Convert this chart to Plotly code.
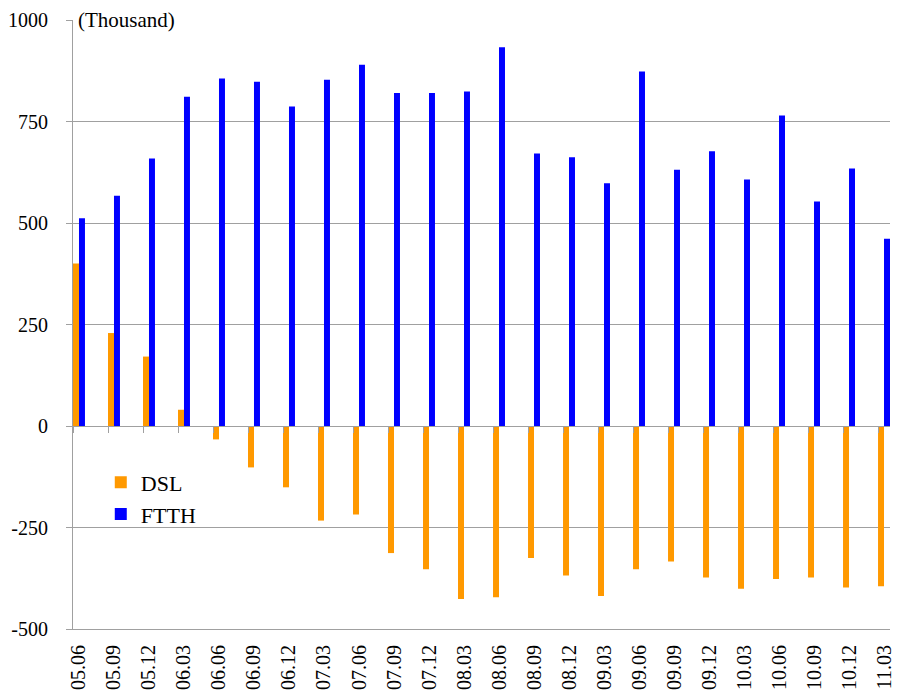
import plotly.graph_objects as go

categories = ["05.06", "05.09", "05.12", "06.03", "06.06", "06.09", "06.12",
              "07.03", "07.06", "07.09", "07.12", "08.03", "08.06", "08.09",
              "08.12", "09.03", "09.06", "09.09", "09.12", "10.03", "10.06",
              "10.09", "10.12", "11.03"]
dsl = [400, 229, 171, 40, -33, -102, -151, -233, -218, -313, -353, -426,
       -422, -325, -368, -419, -353, -334, -373, -401, -377, -373, -398, -395]
ftth = [512, 567, 659, 811, 856, 848, 787, 853, 890, 820, 820, 824,
        933, 671, 662, 598, 873, 631, 677, 607, 765, 553, 634, 461]
y_ticks = [-500, -250, 0, 250, 500, 750, 1000]
y_labels = ["-500", "-250", "0", "250", "500", "750", "1000"]

FONT = "Liberation Serif"
GRID = "#A0A0A0"
n = len(categories)
w = 0.171

fig = go.Figure()
fig.add_bar(x=categories, y=dsl, name="DSL", marker_color="#FF9900",
            marker_line_width=0, offset=-w, width=w, legendgroup="a")
fig.add_bar(x=categories, y=ftth, name="FTTH", marker_color="#0000FF",
            marker_line_width=0, offset=0, width=w, legendgroup="b")
# helper so the zero-line axis is rendered
fig.add_scatter(x=[0], y=[0], xaxis="x2", yaxis="y", mode="markers",
                marker=dict(opacity=0), showlegend=False, hoverinfo="skip")

fig.update_layout(
    width=897, height=692,
    margin=dict(l=65, r=15, t=12, b=71, autoexpand=False),
    paper_bgcolor="white", plot_bgcolor="white",
    barmode="overlay",
    font=dict(family=FONT, size=20, color="black"),
    xaxis=dict(type="category", range=[-w, n - 1 + w], showline=True,
               linecolor=GRID, linewidth=1, ticks="", tickangle=-90,
               showgrid=False, zeroline=False, ticklabelstandoff=7,
               automargin=False,
               tickfont=dict(family=FONT, size=20, color="black")),
    xaxis2=dict(type="linear", overlaying="x", anchor="free", position=1/3,
                side="bottom", range=[-w, n - 1 + w], tick0=-w, dtick=1,
                ticks="outside", ticklen=6, tickcolor=GRID, showline=True,
                linecolor=GRID, linewidth=1, showticklabels=False,
                showgrid=False, zeroline=False, automargin=False),
    yaxis=dict(range=[-500, 1000], tickvals=y_ticks, ticktext=y_labels,
               showgrid=True, automargin=False,
               gridcolor=GRID, gridwidth=1, showline=True, linecolor=GRID,
               linewidth=1, ticks="outside", ticklen=6, tickcolor=GRID,
               zeroline=False, ticklabelstandoff=14,
               tickfont=dict(family=FONT, size=20, color="black")),
    legend=dict(x=0.034, y=0.275, xanchor="left", yanchor="top",
                font=dict(family=FONT, size=22, color="black"),
                bgcolor="rgba(0,0,0,0)", traceorder="normal",
                tracegroupgap=14),
    annotations=[dict(text="(Thousand)", xref="paper", yref="y",
                      x=0.004, y=1000, xanchor="left", yanchor="middle",
                      showarrow=False, bgcolor="white",
                      font=dict(family=FONT, size=21, color="black"))],
)

fig.write_html("out.html")
